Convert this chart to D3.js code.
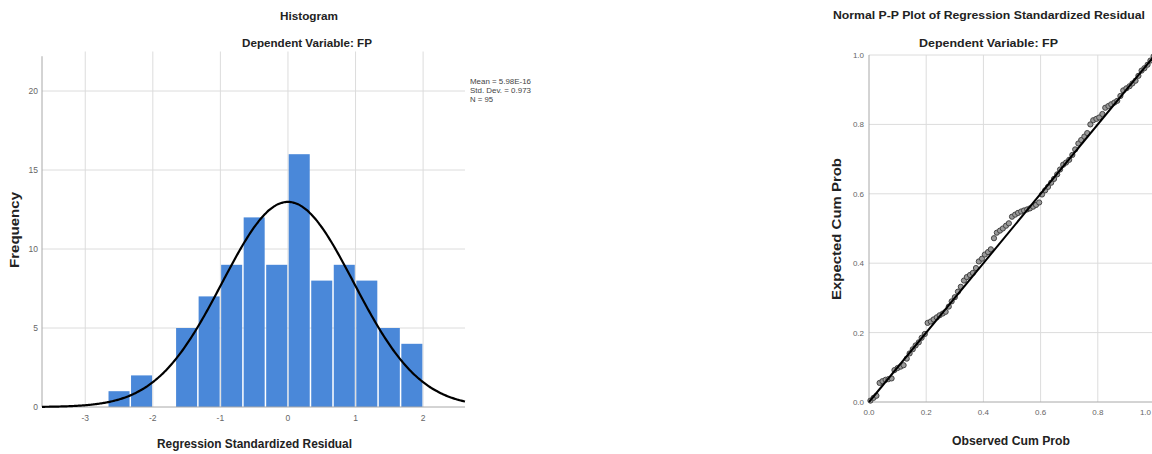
<!DOCTYPE html>
<html>
<head>
<meta charset="utf-8">
<script src="https://cdn.jsdelivr.net/npm/d3@7"></script>
<style>
  html, body { margin: 0; padding: 0; background: #fff; }
  svg { display: block; font-family: "Liberation Sans", Arial, sans-serif; }
</style>
</head>
<body>
<svg id="chart" width="1152" height="454"></svg>
<script>
// ---------- Histogram data ----------
const binEdgesStart = [-8/3, -7/3, -6/3, -5/3, -4/3, -3/3, -2/3, -1/3, 0, 1/3, 2/3, 3/3, 4/3, 5/3];
const binWidth = 1/3;
const binCounts = [1, 2, 0, 5, 7, 9, 12, 9, 16, 8, 9, 8, 5, 4];
const histXTicks = [-3, -2, -1, 0, 1, 2];
const histYTicks = [0, 5, 10, 15, 20];
const statMean = 5.98e-16;
const statSD = 0.973;
const statN = 95;
const legendLines = ["Mean = 5.98E-16", "Std. Dev. = 0.973", "N = 95"];

// ---------- P-P plot data ----------
const ppObserved = [0.005,0.016,0.026,0.037,0.047,0.058,0.068,0.079,0.089,0.100,
  0.111,0.121,0.132,0.142,0.153,0.163,0.174,0.184,0.195,0.205,
  0.216,0.226,0.237,0.247,0.258,0.268,0.279,0.289,0.300,0.311,
  0.321,0.332,0.342,0.353,0.363,0.374,0.384,0.395,0.405,0.416,
  0.426,0.437,0.447,0.458,0.468,0.479,0.489,0.500,0.511,0.521,
  0.532,0.542,0.553,0.563,0.574,0.584,0.595,0.605,0.616,0.626,
  0.637,0.647,0.658,0.668,0.679,0.689,0.700,0.711,0.721,0.732,
  0.742,0.753,0.763,0.774,0.784,0.795,0.805,0.816,0.826,0.837,
  0.847,0.858,0.868,0.879,0.889,0.900,0.911,0.921,0.932,0.942,
  0.953,0.963,0.974,0.984,0.995];
const ppExpected = [0.004,0.012,0.018,0.055,0.060,0.064,0.066,0.068,0.092,0.098,
  0.102,0.106,0.125,0.140,0.152,0.163,0.172,0.185,0.196,0.228,
  0.232,0.238,0.244,0.250,0.255,0.260,0.275,0.290,0.302,0.318,
  0.332,0.350,0.360,0.366,0.372,0.386,0.405,0.413,0.425,0.432,
  0.440,0.472,0.488,0.494,0.500,0.508,0.515,0.534,0.540,0.545,
  0.549,0.552,0.555,0.558,0.563,0.568,0.575,0.598,0.610,0.620,
  0.632,0.643,0.656,0.670,0.684,0.690,0.698,0.712,0.728,0.745,
  0.755,0.765,0.775,0.800,0.812,0.816,0.820,0.830,0.848,0.853,
  0.858,0.863,0.868,0.882,0.898,0.904,0.910,0.918,0.926,0.940,
  0.955,0.962,0.972,0.984,0.996];
const ppTicks = [0, 0.2, 0.4, 0.6, 0.8, 1.0];

const svg = d3.select("#chart");
const gridColor = "#dcdcdc";
const axisColor = "#a8a8a8";
const tickColor = "#666";

// ================= HISTOGRAM =================
const hx = d3.scaleLinear().domain([-3.64, 2.62]).range([42, 465]);
const hy = d3.scaleLinear().domain([0, 22.5]).range([407, 51.5]);
const H = svg.append("g");

// vertical grid
H.selectAll(".vg").data(histXTicks).join("line")
  .attr("x1", d => hx(d)).attr("x2", d => hx(d))
  .attr("y1", hy(22.5)).attr("y2", hy(0))
  .attr("stroke", gridColor).attr("stroke-width", 1);
// horizontal grid
H.selectAll(".hg").data(histYTicks.filter(d => d > 0)).join("line")
  .attr("x1", hx(-3.64)).attr("x2", hx(2.62))
  .attr("y1", d => hy(d)).attr("y2", d => hy(d))
  .attr("stroke", gridColor).attr("stroke-width", 1);

// bars
H.selectAll(".bar").data(binCounts.map((c, i) => ({x0: binEdgesStart[i], c}))).join("rect")
  .attr("x", d => hx(d.x0) + 0.75)
  .attr("width", d => hx(d.x0 + binWidth) - hx(d.x0) - 1.5)
  .attr("y", d => hy(d.c))
  .attr("height", d => hy(0) - hy(d.c))
  .attr("fill", "#4a88d9");

// axes lines
H.append("line").attr("x1", hx(-3.64)).attr("x2", hx(-3.64)).attr("y1", hy(22.2)).attr("y2", hy(0))
  .attr("stroke", axisColor).attr("stroke-width", 1);
H.append("line").attr("x1", hx(-3.64)).attr("x2", hx(2.62)).attr("y1", hy(0)).attr("y2", hy(0))
  .attr("stroke", axisColor).attr("stroke-width", 1);

// normal curve
const scaleFactor = statN * binWidth;
const curveX = d3.range(-3.64, 2.6201, 0.02);
const dens = x => scaleFactor * Math.exp(-0.5 * Math.pow((x - statMean) / statSD, 2)) / (statSD * Math.sqrt(2 * Math.PI));
H.append("path")
  .attr("d", d3.line().x(d => hx(d)).y(d => hy(dens(d))).curve(d3.curveBasis)(curveX))
  .attr("fill", "none").attr("stroke", "#000").attr("stroke-width", 2.2);

// tick labels
H.selectAll(".yl").data(histYTicks).join("text")
  .attr("x", 38).attr("y", d => hy(d) + 3)
  .attr("text-anchor", "end").attr("font-size", 8.5).attr("fill", tickColor)
  .text(d => d);
H.selectAll(".xl").data(histXTicks).join("text")
  .attr("x", d => hx(d)).attr("y", 421)
  .attr("text-anchor", "middle").attr("font-size", 8.5).attr("fill", tickColor)
  .text(d => d);

// legend
const legendWidths = [61, 61, 23];
H.selectAll(".lg").data(legendLines).join("text")
  .attr("x", 470).attr("y", (d, i) => 84 + i * 9)
  .attr("font-size", 7.5).attr("fill", "#444")
  .attr("textLength", (d, i) => legendWidths[i]).attr("lengthAdjust", "spacingAndGlyphs")
  .text(d => d);

// titles
H.append("text").attr("x", 309).attr("y", 20).attr("text-anchor", "middle")
  .attr("font-size", 11).attr("font-weight", "bold").attr("fill", "#222")
  .attr("textLength", 58).attr("lengthAdjust", "spacingAndGlyphs").text("Histogram");
H.append("text").attr("x", 307).attr("y", 47).attr("text-anchor", "middle")
  .attr("font-size", 11).attr("font-weight", "bold").attr("fill", "#222")
  .attr("textLength", 130).attr("lengthAdjust", "spacingAndGlyphs").text("Dependent Variable: FP");
H.append("text").attr("x", 254.5).attr("y", 448).attr("text-anchor", "middle")
  .attr("font-size", 12).attr("font-weight", "bold").attr("fill", "#222")
  .attr("textLength", 195).attr("lengthAdjust", "spacingAndGlyphs").text("Regression Standardized Residual");
H.append("text").attr("transform", "translate(19,230) rotate(-90)").attr("text-anchor", "middle")
  .attr("font-size", 12).attr("font-weight", "bold").attr("fill", "#222")
  .attr("textLength", 76).attr("lengthAdjust", "spacingAndGlyphs").text("Frequency");

// ================= P-P PLOT =================
const px = d3.scaleLinear().domain([0, 1]).range([869, 1155]);
const py = d3.scaleLinear().domain([0, 1]).range([402, 55]);
const P = svg.append("g");

P.selectAll(".pvg").data(ppTicks.filter(d => d > 0)).join("line")
  .attr("x1", d => px(d)).attr("x2", d => px(d))
  .attr("y1", py(1)).attr("y2", py(0))
  .attr("stroke", gridColor).attr("stroke-width", 1);
P.selectAll(".phg").data(ppTicks.filter(d => d > 0)).join("line")
  .attr("x1", px(0)).attr("x2", px(1))
  .attr("y1", d => py(d)).attr("y2", d => py(d))
  .attr("stroke", gridColor).attr("stroke-width", 1);
P.append("line").attr("x1", px(0)).attr("x2", px(0)).attr("y1", py(1)).attr("y2", py(0))
  .attr("stroke", axisColor).attr("stroke-width", 1);
P.append("line").attr("x1", px(0)).attr("x2", px(1)).attr("y1", py(0)).attr("y2", py(0))
  .attr("stroke", axisColor).attr("stroke-width", 1);

// points
P.selectAll(".pt").data(ppObserved.map((o, i) => ({o, e: ppExpected[i]}))).join("circle")
  .attr("cx", d => px(d.o)).attr("cy", d => py(d.e)).attr("r", 2.6)
  .attr("fill", "#9a9a9a").attr("stroke", "#444").attr("stroke-width", 1);

// reference line
P.append("line").attr("x1", px(0)).attr("y1", py(0)).attr("x2", px(1)).attr("y2", py(1))
  .attr("stroke", "#000").attr("stroke-width", 2);

// tick labels
const fmt = d3.format(".1f");
P.selectAll(".pyl").data(ppTicks).join("text")
  .attr("x", 864).attr("y", d => py(d) + 3)
  .attr("text-anchor", "end").attr("font-size", 8).attr("fill", tickColor)
  .text(d => fmt(d));
P.selectAll(".pxl").data(ppTicks).join("text")
  .attr("x", d => d === 1 ? 1151 : px(d)).attr("y", 415)
  .attr("text-anchor", d => d === 1 ? "end" : "middle").attr("font-size", 8).attr("fill", tickColor)
  .text(d => fmt(d));

// titles
P.append("text").attr("x", 989).attr("y", 19).attr("text-anchor", "middle")
  .attr("font-size", 11).attr("font-weight", "bold").attr("fill", "#222")
  .attr("textLength", 312).attr("lengthAdjust", "spacingAndGlyphs").text("Normal P-P Plot of Regression Standardized Residual");
P.append("text").attr("x", 988.5).attr("y", 47).attr("text-anchor", "middle")
  .attr("font-size", 11).attr("font-weight", "bold").attr("fill", "#222")
  .attr("textLength", 139).attr("lengthAdjust", "spacingAndGlyphs").text("Dependent Variable: FP");
P.append("text").attr("x", 1011).attr("y", 445).attr("text-anchor", "middle")
  .attr("font-size", 12).attr("font-weight", "bold").attr("fill", "#222")
  .attr("textLength", 118).attr("lengthAdjust", "spacingAndGlyphs").text("Observed Cum Prob");
P.append("text").attr("transform", "translate(841,229) rotate(-90)").attr("text-anchor", "middle")
  .attr("font-size", 12).attr("font-weight", "bold").attr("fill", "#222")
  .attr("textLength", 142).attr("lengthAdjust", "spacingAndGlyphs").text("Expected Cum Prob");
</script>
</body>
</html>
